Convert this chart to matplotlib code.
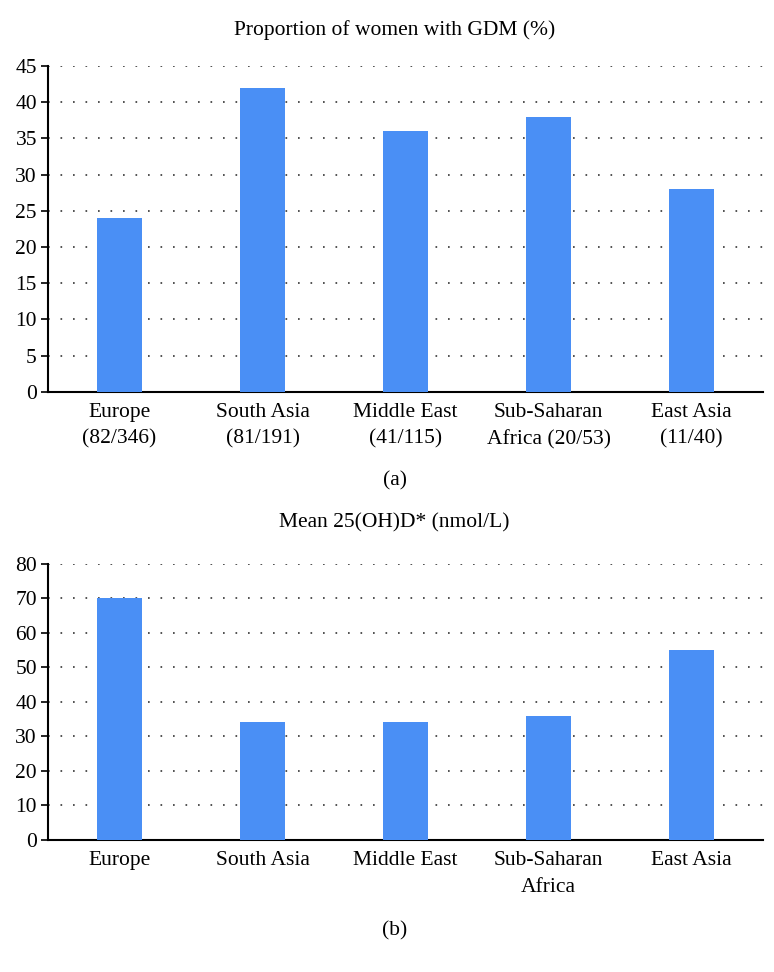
import matplotlib.pyplot as plt
import numpy as np

plt.rcParams['font.family'] = ['Liberation Serif', 'DejaVu Serif']

regions_a = ['Europe\n(82/346)', 'South Asia\n(81/191)', 'Middle East\n(41/115)',
             'Sub-Saharan\nAfrica (20/53)', 'East Asia\n(11/40)']
gdm_pct = [24, 42, 36, 38, 28]

regions_b = ['Europe', 'South Asia', 'Middle East', 'Sub-Saharan\nAfrica', 'East Asia']
mean_vitd = [70, 34, 34, 36, 55]

bar_color = '#4a8ff5'
fs = 15.5

fig = plt.figure(figsize=(7.74, 9.72), dpi=100)
ax1 = fig.add_axes([0.062, 0.597, 0.924, 0.335])
ax2 = fig.add_axes([0.062, 0.136, 0.924, 0.284])


def style(ax, labels, values, ymax, step):
    x = np.arange(len(values))
    ax.bar(x, values, width=0.31, color=bar_color, zorder=3)
    ax.set_xlim(-0.5, len(values) - 0.5)
    ax.set_ylim(0, ymax)
    ax.set_yticks(np.arange(0, ymax + 1, step))
    ax.set_xticks(x)
    ax.set_xticklabels(labels, fontsize=fs, linespacing=1.55)
    ax.tick_params(axis='y', labelsize=fs, length=5, width=1.2, direction='out', pad=3)
    ax.tick_params(axis='x', length=0, pad=8)
    ax.yaxis.grid(True, linestyle=(0, (1, 6.5)), color='#333333', linewidth=1.2, zorder=0)
    for s in ['top', 'right']:
        ax.spines[s].set_visible(False)
    ax.spines['left'].set_linewidth(1.5)
    ax.spines['bottom'].set_linewidth(1.5)


style(ax1, regions_a, gdm_pct, 45, 5)
style(ax2, regions_b, mean_vitd, 80, 10)

fig.text(0.51, 0.969, 'Proportion of women with GDM (%)', ha='center', va='center', fontsize=fs)
fig.text(0.51, 0.505, '(a)', ha='center', va='center', fontsize=fs)
fig.text(0.51, 0.462, 'Mean 25(OH)D* (nmol/L)', ha='center', va='center', fontsize=fs)
fig.text(0.51, 0.042, '(b)', ha='center', va='center', fontsize=fs)

fig.savefig('out.png', dpi=100)
